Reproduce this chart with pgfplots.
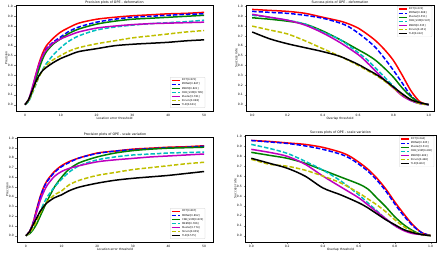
\documentclass[border=0pt]{standalone}
\usepackage{fontspec}
\setmainfont{DejaVu Sans}
\usepackage{pgfplots}
\pgfplotsset{compat=1.18}
\definecolor{mr}{rgb}{1,0,0}
\definecolor{mb}{rgb}{0,0,1}
\definecolor{mg}{rgb}{0,0.5,0}
\definecolor{mc}{rgb}{0,0.75,0.75}
\definecolor{mm}{rgb}{0.75,0,0.75}
\definecolor{my}{rgb}{0.75,0.75,0}
\pgfplotsset{
  every axis title/.style={at={(0.5,1)}, anchor=south, inner sep=1pt, yshift=0.5pt, font=\fontsize{6.5}{7.5}\selectfont},
  base/.style={scale only axis, anchor=north west,
    /pgf/number format/assume math mode=true,
    tick label style={font=\fontsize{6}{7}\selectfont},
    label style={font=\fontsize{6}{7}\selectfont},
    tick align=outside, xtick pos=bottom, ytick pos=left,
    major tick length=3pt, axis line style={line width=0.6pt},
    ymin=-0.065, ymax=1.015,
    ytick={0,0.1,...,1.0},
    yticklabel style={/pgf/number format/.cd, fixed, fixed zerofill, precision=1},
    ylabel style={yshift=-6pt}, xlabel style={yshift=5pt},
    legend style={font=\fontsize{5}{6}\selectfont, draw=black!20, rounded corners=1pt,
      row sep=-1.2pt, inner sep=1.5pt},
    legend cell align=left,
    every axis plot/.append style={line width=3pt},
  },
  prec/.style={base, xmin=-2.5, xmax=52.5, xtick={0,10,...,50},
    xlabel={Location error threshold}, ylabel={Precision},
    legend style={at={(0.96,0.03)}, anchor=south east}},
  succ/.style={base, xmin=-0.035, xmax=1.03, xtick={0,0.2,...,1.0},
    xticklabel style={/pgf/number format/.cd, fixed, fixed zerofill, precision=1},
    xlabel={Overlap threshold}, ylabel={Success rate},
    legend style={at={(0.99,0.99)}, anchor=north east}},
  sr/.style={color=mr},
  sb/.style={color=mb, dash pattern=on 9pt off 4pt},
  sg/.style={color=mg},
  sc/.style={color=mc, dash pattern=on 9pt off 4pt},
  sm/.style={color=mm},
  sy/.style={color=my, dash pattern=on 9pt off 4pt},
  sk/.style={color=black},
}
\begin{document}
\begin{tikzpicture}
\useasboundingbox (0,0) rectangle (884pt,-510pt);
% ---------- top left
\begin{axis}[prec, at={(32pt,-10pt)}, width=394pt, height=212pt,
  title={Precision plots of OPE - deformation}]
\addplot[sr, smooth] coordinates {(0,0)(1,0.04)(2,0.15)(3,0.30)(4,0.43)(5,0.53)(6,0.60)(8,0.68)(10,0.74)(12,0.78)(15,0.83)(20,0.87)(25,0.89)(30,0.905)(35,0.915)(40,0.925)(45,0.93)(50,0.94)};
\addlegendentry{DCT[0.872]}
\addplot[sb, smooth] coordinates {(0,0)(1,0.04)(2,0.14)(3,0.28)(4,0.40)(5,0.50)(6,0.57)(8,0.64)(10,0.69)(12,0.74)(15,0.79)(20,0.84)(25,0.87)(30,0.89)(35,0.90)(40,0.91)(45,0.92)(50,0.925)};
\addlegendentry{MDNet[0.847]}
\addplot[sg, smooth] coordinates {(0,0)(1,0.04)(2,0.13)(3,0.25)(4,0.37)(5,0.47)(6,0.54)(8,0.62)(10,0.67)(12,0.72)(15,0.77)(20,0.82)(25,0.85)(30,0.87)(35,0.88)(40,0.89)(45,0.90)(50,0.91)};
\addlegendentry{MEEM[0.821]}
\addplot[sc, smooth] coordinates {(0,0)(1,0.03)(2,0.11)(3,0.20)(4,0.29)(5,0.36)(6,0.42)(8,0.51)(10,0.58)(12,0.64)(15,0.70)(20,0.76)(25,0.79)(30,0.81)(35,0.825)(40,0.835)(45,0.845)(50,0.86)};
\addlegendentry{CNN\_SVM[0.785]}
\addplot[sm, smooth] coordinates {(0,0)(1,0.05)(2,0.17)(3,0.30)(4,0.42)(5,0.50)(6,0.56)(8,0.63)(10,0.67)(12,0.70)(15,0.74)(20,0.78)(25,0.80)(30,0.815)(35,0.825)(40,0.83)(45,0.835)(50,0.84)};
\addlegendentry{Muster[0.781]}
\addplot[sy, smooth] coordinates {(0,0)(1,0.04)(2,0.12)(3,0.21)(4,0.29)(5,0.35)(6,0.40)(8,0.46)(10,0.50)(12,0.54)(15,0.58)(20,0.62)(25,0.65)(30,0.68)(35,0.70)(40,0.72)(45,0.74)(50,0.755)};
\addlegendentry{Struck[0.698]}
\addplot[sk, smooth] coordinates {(0,0)(1,0.05)(2,0.14)(3,0.23)(4,0.30)(5,0.35)(6,0.38)(8,0.43)(10,0.47)(12,0.50)(15,0.54)(20,0.57)(25,0.60)(30,0.615)(35,0.625)(40,0.635)(45,0.65)(50,0.66)};
\addlegendentry{TLD[0.601]}
\end{axis}
% ---------- top right
\begin{axis}[succ, at={(492pt,-10pt)}, width=376pt, height=212pt,
  title={Success plots of OPE - deformation}]
\addplot[sr, smooth] coordinates {(0,0.97)(0.1,0.96)(0.2,0.95)(0.3,0.93)(0.4,0.89)(0.5,0.85)(0.55,0.82)(0.6,0.78)(0.65,0.72)(0.7,0.65)(0.75,0.56)(0.8,0.45)(0.85,0.30)(0.9,0.14)(0.95,0.03)(1.0,0.0)};
\addlegendentry{DCT[0.674]}
\addplot[sb, smooth] coordinates {(0,0.95)(0.1,0.94)(0.2,0.93)(0.3,0.91)(0.4,0.88)(0.5,0.83)(0.55,0.79)(0.6,0.73)(0.65,0.66)(0.7,0.58)(0.75,0.47)(0.8,0.35)(0.85,0.22)(0.9,0.09)(0.95,0.02)(1.0,0)};
\addlegendentry{MDNet[0.668]}
\addplot[sg, smooth] coordinates {(0,0.885)(0.1,0.87)(0.2,0.85)(0.3,0.82)(0.4,0.75)(0.5,0.66)(0.6,0.56)(0.65,0.51)(0.7,0.45)(0.75,0.37)(0.8,0.28)(0.85,0.17)(0.9,0.08)(0.95,0.02)(1,0)};
\addlegendentry{Muster[0.551]}
\addplot[sc, smooth] coordinates {(0,0.91)(0.1,0.89)(0.2,0.86)(0.3,0.82)(0.4,0.74)(0.5,0.66)(0.6,0.53)(0.65,0.46)(0.7,0.37)(0.75,0.28)(0.8,0.19)(0.85,0.10)(0.9,0.04)(0.95,0.01)(1,0)};
\addlegendentry{CNN\_SVM[0.547]}
\addplot[sm, smooth] coordinates {(0,0.92)(0.1,0.89)(0.2,0.86)(0.3,0.81)(0.4,0.73)(0.5,0.63)(0.6,0.51)(0.65,0.43)(0.7,0.34)(0.75,0.25)(0.8,0.17)(0.85,0.09)(0.9,0.04)(0.95,0.01)(1,0)};
\addlegendentry{MEEM[0.535]}
\addplot[sy, smooth] coordinates {(0,0.80)(0.1,0.76)(0.2,0.72)(0.3,0.65)(0.4,0.57)(0.5,0.49)(0.6,0.40)(0.65,0.35)(0.7,0.30)(0.75,0.24)(0.8,0.17)(0.85,0.10)(0.9,0.05)(0.95,0.01)(1,0)};
\addlegendentry{Struck[0.451]}
\addplot[sk, smooth] coordinates {(0,0.74)(0.1,0.67)(0.2,0.62)(0.3,0.58)(0.4,0.54)(0.5,0.49)(0.6,0.41)(0.65,0.36)(0.7,0.31)(0.75,0.25)(0.8,0.18)(0.85,0.11)(0.9,0.05)(0.95,0.02)(1,0)};
\addlegendentry{TLD[0.412]}
\end{axis}
% ---------- bottom left
\begin{axis}[prec, at={(34pt,-274pt)}, width=392pt, height=210pt,
  title={Precision plots of OPE - scale variation}]
\addplot[sr, smooth] coordinates {(0,0)(1,0.04)(2,0.13)(3,0.27)(4,0.40)(5,0.50)(6,0.57)(8,0.66)(10,0.72)(12,0.76)(15,0.80)(20,0.85)(25,0.87)(30,0.89)(35,0.90)(40,0.91)(45,0.915)(50,0.925)};
\addlegendentry{DCT[0.897]}
\addplot[sb, smooth] coordinates {(0,0)(1,0.04)(2,0.13)(3,0.26)(4,0.39)(5,0.49)(6,0.56)(8,0.65)(10,0.71)(12,0.75)(15,0.80)(20,0.845)(25,0.87)(30,0.885)(35,0.895)(40,0.905)(45,0.91)(50,0.92)};
\addlegendentry{MDNet[0.892]}
\addplot[sg, smooth] coordinates {(0,0)(1,0.02)(2,0.06)(3,0.12)(4,0.20)(5,0.28)(6,0.36)(8,0.50)(10,0.60)(12,0.68)(15,0.75)(20,0.81)(25,0.85)(30,0.875)(35,0.89)(40,0.90)(45,0.905)(50,0.91)};
\addlegendentry{CNN\_SVM[0.874]}
\addplot[sc, smooth] coordinates {(0,0)(1,0.03)(2,0.08)(3,0.16)(4,0.25)(5,0.33)(6,0.40)(8,0.50)(10,0.58)(12,0.65)(15,0.72)(20,0.78)(25,0.81)(30,0.83)(35,0.84)(40,0.85)(45,0.855)(50,0.86)};
\addlegendentry{MEEM[0.786]}
\addplot[sm, smooth] coordinates {(0,0)(1,0.04)(2,0.12)(3,0.24)(4,0.36)(5,0.45)(6,0.52)(8,0.61)(10,0.66)(12,0.69)(15,0.72)(20,0.76)(25,0.78)(30,0.795)(35,0.81)(40,0.82)(45,0.83)(50,0.84)};
\addlegendentry{Muster[0.774]}
\addplot[sy, smooth] coordinates {(0,0)(1,0.03)(2,0.08)(3,0.15)(4,0.23)(5,0.30)(6,0.35)(8,0.42)(10,0.46)(12,0.52)(15,0.57)(20,0.62)(25,0.65)(30,0.68)(35,0.70)(40,0.72)(45,0.74)(50,0.755)};
\addlegendentry{Struck[0.639]}
\addplot[sk, smooth] coordinates {(0,0)(1,0.04)(2,0.11)(3,0.18)(4,0.25)(5,0.30)(6,0.34)(8,0.39)(10,0.42)(12,0.46)(15,0.50)(20,0.54)(25,0.57)(30,0.59)(35,0.605)(40,0.62)(45,0.64)(50,0.66)};
\addlegendentry{TLD[0.575]}
\end{axis}
% ---------- bottom right
\begin{axis}[succ, at={(490pt,-270pt)}, width=382pt, height=214pt,
  title={Success plots of OPE - scale variation}]
\addplot[sr, smooth] coordinates {(0,0.96)(0.1,0.95)(0.2,0.935)(0.3,0.92)(0.4,0.89)(0.5,0.84)(0.55,0.80)(0.6,0.74)(0.65,0.67)(0.7,0.58)(0.75,0.47)(0.8,0.34)(0.85,0.22)(0.9,0.11)(0.95,0.03)(1,0)};
\addlegendentry{DCT[0.644]}
\addplot[sb, smooth] coordinates {(0,0.96)(0.1,0.945)(0.2,0.93)(0.3,0.905)(0.4,0.87)(0.5,0.82)(0.55,0.78)(0.6,0.72)(0.65,0.65)(0.7,0.56)(0.75,0.45)(0.8,0.32)(0.85,0.20)(0.9,0.10)(0.95,0.03)(1,0)};
\addlegendentry{MDNet[0.635]}
\addplot[sg, smooth] coordinates {(0,0.84)(0.1,0.81)(0.2,0.78)(0.3,0.73)(0.4,0.66)(0.5,0.59)(0.6,0.52)(0.65,0.47)(0.7,0.38)(0.75,0.29)(0.8,0.19)(0.85,0.11)(0.9,0.05)(0.95,0.01)(1,0)};
\addlegendentry{Muster[0.510]}
\addplot[sc, smooth] coordinates {(0,0.92)(0.1,0.88)(0.2,0.83)(0.3,0.75)(0.4,0.66)(0.5,0.55)(0.6,0.41)(0.65,0.33)(0.7,0.25)(0.75,0.17)(0.8,0.10)(0.85,0.06)(0.9,0.03)(0.95,0.01)(1,0)};
\addlegendentry{CNN\_SVM[0.490]}
\addplot[sm, smooth] coordinates {(0,0.87)(0.1,0.84)(0.2,0.80)(0.3,0.72)(0.4,0.60)(0.5,0.49)(0.6,0.38)(0.65,0.31)(0.7,0.24)(0.75,0.17)(0.8,0.10)(0.85,0.05)(0.9,0.02)(0.95,0.01)(1,0)};
\addlegendentry{MEEM[0.469]}
\addplot[sy, smooth] coordinates {(0,0.77)(0.1,0.72)(0.2,0.70)(0.3,0.66)(0.4,0.60)(0.5,0.53)(0.6,0.43)(0.65,0.37)(0.7,0.31)(0.75,0.24)(0.8,0.16)(0.85,0.09)(0.9,0.04)(0.95,0.01)(1,0)};
\addlegendentry{Struck[0.448]}
\addplot[sk, smooth] coordinates {(0,0.78)(0.1,0.73)(0.2,0.68)(0.3,0.60)(0.4,0.48)(0.5,0.41)(0.6,0.33)(0.65,0.28)(0.7,0.22)(0.75,0.16)(0.8,0.11)(0.85,0.06)(0.9,0.03)(0.95,0.01)(1,0)};
\addlegendentry{TLD[0.402]}
\end{axis}
\end{tikzpicture}
\end{document}
